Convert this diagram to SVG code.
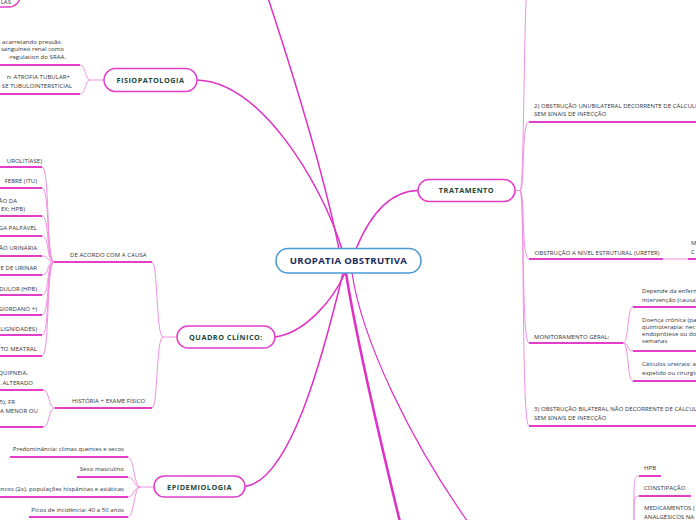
<svg xmlns="http://www.w3.org/2000/svg" width="696" height="520" viewBox="0 0 696 520">
<style>
.n{fill:#fff;stroke:#e23ec9;stroke-width:1.5}
.nt{font-family:"Open Sans","DejaVu Sans",sans-serif;font-weight:bold;font-size:7.3px;fill:#1b4a3a;text-anchor:middle;letter-spacing:.5px}
.t{font-family:"Open Sans","DejaVu Sans",sans-serif;font-size:6px;fill:#333;letter-spacing:.05px}
.e{text-anchor:end}
.ul{stroke:#e23ec9;stroke-width:2;fill:none}
.cv{stroke:#f190e2;stroke-width:1;fill:none}
.mc{stroke:#e030c4;stroke-width:1.5;fill:none}
</style>
<g id="connectors">
<path class="mc" d="M197,80 C260,82 320,180 342,249"/>
<path class="mc" d="M339,249 C325,180 295,80 268,-2"/>
<path class="mc" d="M356,249 C372,210 392,191 418,190.5"/>
<path class="mc" d="M275,337 C305,333 333,300 345,273"/>
<path class="mc" d="M245,486.5 C290,480 322,360 343,273"/>
<path class="mc" style="stroke-width:2.5" d="M346,273 C355,330 380,440 400,522"/>
<path class="mc" style="stroke-width:1.2" d="M352,273 C362,340 410,440 468,522"/>
<path class="cv" d="M104,80 H90 C85,80 86,65 80,65 M90,80 C85,80 86,94 80,94"/>
<path class="ul" d="M-5,65 H80 M-5,94 H80"/>
<path class="cv" d="M154,487 H140 C134,487 134,457 128,457 M140,487 C134,487 134,477 128,477 M140,487 C134,487 134,497 128,497 M140,487 C134,487 134,517 128,517"/>
<path class="ul" d="M10,457 H128 M77,477 H128 M-5,497 H128 M29,517 H128"/>
<path class="cv" d="M177,337 H163 C156,337 158,262 152,262 M163,337 C156,337 158,408 152,408"/>
<path class="ul" d="M54,262 H152 M55,408 H152"/>
<path class="cv" d="M54,262 C46,262 50,167 42,167 M54,262 C46,262 50,188 42,188 M54,262 C46,262 50,216 42,216 M54,262 C46,262 50,236 42,236 M54,262 C46,262 50,256 42,256 M54,262 C46,262 50,275 42,275 M54,262 C46,262 50,295 42,295 M54,262 C46,262 50,315 42,315 M54,262 C46,262 50,335 42,335 M54,262 C46,262 50,356 42,356"/>
<path class="ul" d="M-5,167 H42 M-5,188 H42 M-5,216 H42 M-5,236 H42 M-5,256 H42 M-5,275 H42 M-5,295 H42 M-5,315 H42 M-5,335 H42 M-5,356 H42"/>
<path class="cv" d="M55,408 C48,408 50,390 43,390 M55,408 C48,408 50,427 43,427"/>
<path class="ul" d="M-5,390 H43 M-5,427 H43"/>
<path class="cv" d="M515,190.5 H520 M520,190.5 C525,190.5 523,-40 530,-40 M520,190.5 C525,190.5 521,122 529,122 M520,190.5 C525,190.5 521,259 529,259 M520,190.5 C525,190.5 521,343 529,343 M520,190.5 C525,190.5 521,426 529,426"/>
<path class="ul" d="M529,122 H700 M529,259 H663 M688,259 H700 M529,343 H623 M529,426 H700"/>
<path class="cv" d="M663,259 H688"/>
<path class="cv" d="M623,343 C629,343 627,307 633,307 M623,343 C629,343 627,351 633,351 M623,343 C629,343 627,381 633,381"/>
<path class="ul" d="M633,307 H700 M633,351 H700 M633,381 H700"/>
<path class="cv" d="M634,540 C634,480 633,476 639,476 M634,540 C634,500 633,496 639,496"/>
<path class="ul" d="M639,476 H661 M639,496 H691"/>
</g>
<g id="root">
<rect x="276" y="248.5" width="145" height="24.5" rx="12" fill="#fff" stroke="#4a9ad6" stroke-width="1.5"/>
<text x="348.5" y="264.4" style="font-family:'Open Sans','DejaVu Sans',sans-serif;font-weight:bold;font-size:9.6px;letter-spacing:.3px;fill:#1c2b5c;text-anchor:middle">UROPATIA OBSTRUTIVA</text>
</g>
<g id="topleft">
<rect class="n" x="-80" y="-16" width="100" height="23" rx="11"/>
<text class="t e" x="11" y="3.5">LAS</text>
</g>
<g id="fisiopatologia">
<rect class="n" x="104" y="68.5" width="93" height="23" rx="11.5"/>
<text class="nt" x="150.5" y="82.7">FISIOPATOLOGIA</text>
<text class="t e" x="61" y="43.5">o acarretando pressão</text>
<text class="t e" x="64" y="51.3">sanguíneo renal como</text>
<text class="t e" x="66" y="59.2">-regulation do SRAA.</text>
<text class="t e" x="70" y="79">n: ATROFIA TUBULAR+</text>
<text class="t e" x="72" y="88">SE TUBULOINTERSTICIAL</text>
</g>
<g id="epidemiologia">
<rect class="n" x="154" y="476" width="91" height="21" rx="10.5"/>
<text class="nt" x="199.5" y="489.6">EPIDEMIOLOGIA</text>
<text class="t e" x="124" y="451">Predominância: climas quentes e secos</text>
<text class="t e" x="124" y="471">Sexo masculino</text>
<text class="t e" x="124" y="491">ancos (2x), populações hispânicas e asiáticas</text>
<text class="t e" x="124" y="512">Picos de incidência: 40 a 50 anos</text>
</g>
<g id="quadro">
<rect class="n" x="177" y="326" width="98" height="22" rx="11"/>
<text class="nt" x="226" y="339.9">QUADRO CLÍNICO:</text>
<text class="t" x="70" y="257">DE ACORDO COM A CAUSA</text>
<text class="t" x="72" y="402.5">HISTÓRIA + EXAME FÍSICO</text>
<text class="t e" x="42" y="162.5">UROLITÍASE)</text>
<text class="t e" x="37" y="182.5">FEBRE (ITU)</text>
<text class="t e" x="17" y="202.5">ÃO DA</text>
<text class="t e" x="25" y="211">EX; HPB)</text>
<text class="t e" x="37" y="230">GA PALPÁVEL</text>
<text class="t e" x="37" y="250">ÃO URINÁRIA</text>
<text class="t e" x="37" y="270">E DE URINAR</text>
<text class="t e" x="37" y="291">DULOR (HPB)</text>
<text class="t e" x="37" y="311">GIORDANO +)</text>
<text class="t e" x="37" y="331">LIGNIDADES)</text>
<text class="t e" x="37" y="351">TO MEATRAL</text>
<text class="t e" x="28" y="375">QUIPNEIA,</text>
<text class="t e" x="33" y="384.5">. ALTERADO</text>
<text class="t e" x="15" y="404">15), FR</text>
<text class="t e" x="38" y="413">CA MENOR OU</text>
</g>
<g id="tratamento">
<rect class="n" x="418" y="179.5" width="97" height="22" rx="11"/>
<text class="nt" x="466.5" y="193.4">TRATAMENTO</text>
<text class="t" x="534" y="108">2) OBSTRUÇÃO UNI/BILATERAL DECORRENTE DE CÁLCULO</text>
<text class="t" x="534" y="116">SEM SINAIS DE INFECÇÃO</text>
<text class="t" x="534.5" y="254.5">OBSTRUÇÃO A NÍVEL ESTRUTURAL (URETER)</text>
<text class="t" x="691" y="245">M</text>
<text class="t" x="691" y="254">C</text>
<text class="t" x="534" y="339">MONITORAMENTO GERAL:</text>
<text class="t" x="642" y="293">Depende da enferm</text>
<text class="t" x="642" y="301.5">intervenção (causa)</text>
<text class="t" x="642" y="321.5">Doença crônica (pa</text>
<text class="t" x="642" y="328.5">quimioterapia: nec</text>
<text class="t" x="642" y="335.5">endoprótese ou do</text>
<text class="t" x="642" y="342.5">semanas</text>
<text class="t" x="642" y="366">Cálculos uretrais: a</text>
<text class="t" x="642" y="375">expelido ou cirurgic</text>
<text class="t" x="534" y="411">3) OBSTRUÇÃO BILATERAL NÃO DECORRENTE DE CÁLCULO</text>
<text class="t" x="534" y="420">SEM SINAIS DE INFECÇÃO</text>
</g>
<g id="bottomright">
<text class="t" x="644" y="470">HPB</text>
<text class="t" x="644" y="490">CONSTIPAÇÃO</text>
<text class="t" x="644" y="510">MEDICAMENTOS (</text>
<text class="t" x="644" y="518.5">ANALGÉSICOS NA</text>
</g>
</svg>
